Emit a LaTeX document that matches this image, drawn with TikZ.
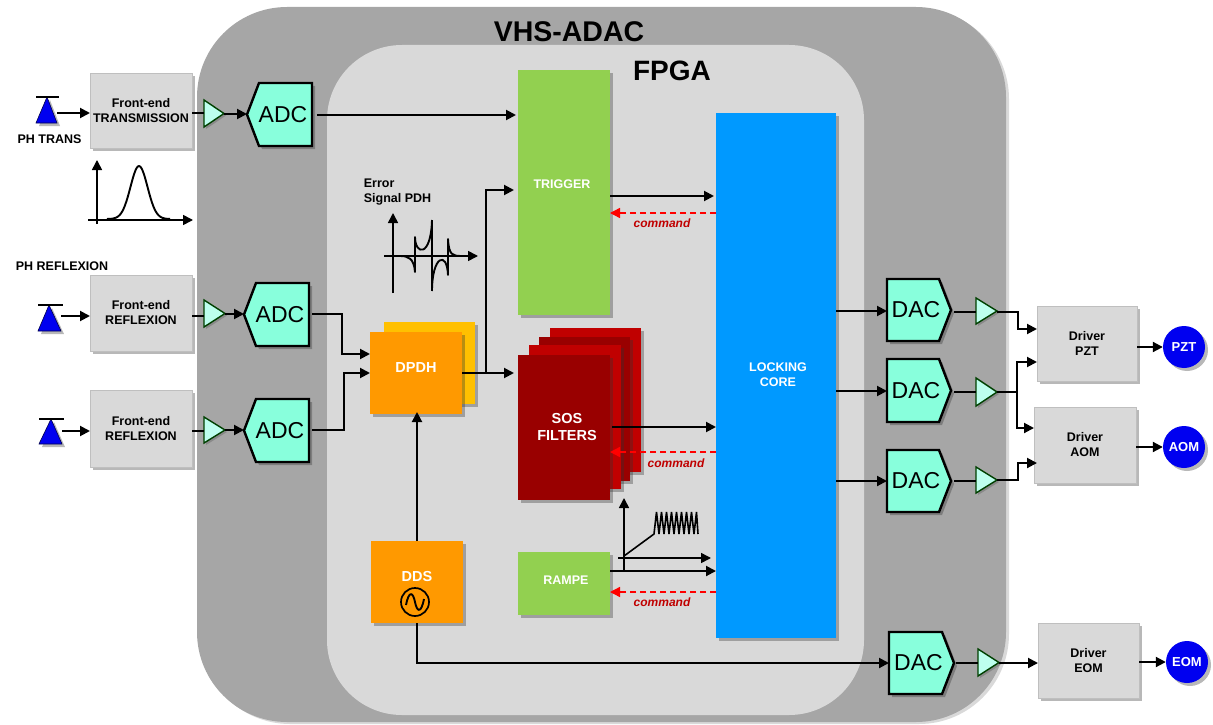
\documentclass[tikz,border=0pt]{standalone}
\usepackage{fontspec}
\setmainfont{Liberation Sans}
\usetikzlibrary{arrows.meta,shadows,calc}
\definecolor{outerg}{HTML}{A6A6A6}
\definecolor{innerg}{HTML}{D9D9D9}
\definecolor{conv}{HTML}{88FFDC}
\definecolor{ampc}{HTML}{BDFFEE}
\definecolor{grn}{HTML}{92D050}
\definecolor{blu}{HTML}{0099FF}
\definecolor{org}{HTML}{FF9900}
\definecolor{yel}{HTML}{FFC000}
\definecolor{red1}{HTML}{C00000}
\definecolor{red2}{HTML}{990000}
\definecolor{dblue}{HTML}{0000F0}
\newcommand\fs[2]{\fontsize{#1}{#2}\selectfont}
\tikzset{
  sh/.style={drop shadow={shadow xshift=3pt,shadow yshift=-3pt,opacity=.35,fill=black!80}},
  shs/.style={drop shadow={shadow xshift=2pt,shadow yshift=-2pt,opacity=.25,fill=black!80}},
  blk/.style={inner sep=0pt,outer sep=0pt,align=center,sh},
  fe/.style={blk,fill=innerg,draw=black!25,line width=.8pt,text=black,font=\bfseries\fs{12.5}{15}},
  wlab/.style={inner sep=0pt,text=white,align=center,font=\bfseries\fs{12.5}{15}},
  blab/.style={inner sep=0pt,text=black,align=left,font=\bfseries\fs{12.5}{15}},
  cmd/.style={inner sep=0pt,text=red1,font=\bfseries\itshape\fs{12}{14}},
  conlab/.style={inner sep=0pt,text=black,font=\fs{23}{25}},
  conshape/.style={fill=conv,draw=black,line width=2.4pt,line join=miter,sh},
  ampshape/.style={fill=ampc,draw=black!75!green,line width=1.4pt,line join=miter,shs},
  pdshape/.style={fill=dblue,draw=black!70!blue,line width=.6pt,sh},
  circ/.style={circle,fill=dblue,inner sep=0pt,minimum size=42pt,text=white,font=\bfseries\fs{13}{15},sh},
  anch/.style={inner sep=0pt,outer sep=0pt},
  wire/.style={draw=black,line width=2pt,-{Triangle[length=10pt,width=10pt]}},
  plainw/.style={draw=black,line width=2pt},
  cwire/.style={draw=red,line width=1.4pt,dash pattern=on 6pt off 4pt,-{Triangle[length=10pt,width=10pt]}},
  axis/.style={draw=black,line width=1.6pt,-{Triangle[length=10pt,width=10pt]}},
  curve/.style={draw=black,line width=1.9pt,line join=round}
}
% rectangle node from corners
\newcommand\blkn[7]{\node[#6,minimum width={(#3-#2)*1pt},minimum height={(#5-#4)*1pt}] (#1) at ({(#2+#3)/2},{(#4+#5)/2}) {#7};}
% bounding node, no paint
\newcommand\anchn[5]{\node[anch,minimum width={(#3-#2)*1pt},minimum height={(#5-#4)*1pt}] (#1) at ({(#2+#3)/2},{(#4+#5)/2}) {};}
% ADC: name x0 x1 y0 y1
\newcommand\adcn[5]{\draw[conshape] (#2,{(#4+#5)/2}) -- ({#2+12},#4) -- (#3,#4) -- (#3,#5) -- ({#2+12},#5) -- cycle;
  \anchn{#1}{#2}{#3}{#4}{#5}
  \node[conlab] (#1t) at ({(#2+#3)/2+3.5},{(#4+#5)/2}) {ADC};}
\newcommand\dacn[5]{\draw[conshape] (#2,#4) -- ({#3-12},#4) -- (#3,{(#4+#5)/2}) -- ({#3-12},#5) -- (#2,#5) -- cycle;
  \anchn{#1}{#2}{#3}{#4}{#5}
  \node[conlab] (#1t) at ({(#2+#3)/2-3},{(#4+#5)/2}) {DAC};}
\newcommand\ampn[5]{\draw[ampshape] (#2,#4) -- (#3,{(#4+#5)/2}) -- (#2,#5) -- cycle;
  \anchn{#1}{#2}{#3}{#4}{#5}}
% photodiode: name apexx x0 x1 ytop ybase
\newcommand\pdn[6]{\draw[pdshape] (#2,#5) -- (#4,#6) -- (#3,#6) -- cycle;
  \draw[black,line width=1.4pt] (#3,#5) -- ({#4+2},#5);
  \anchn{#1}{#3}{#4}{#5}{#6}}
\begin{document}
\begin{tikzpicture}[x=1pt,y=-1pt]
\useasboundingbox (0,0) rectangle (1213,725);
% Containers
\node[anch,rounded corners=90pt,fill=outerg,minimum width=809pt,minimum height=715pt,drop shadow={shadow xshift=3pt,shadow yshift=-2pt,opacity=.15,fill=black}] (vhs) at (601.5,364.5) {};
\node[anch,rounded corners=75pt,fill=innerg,minimum width=537pt,minimum height=670pt] (fpga) at (595.5,380) {};
\node[inner sep=0pt,font=\bfseries\fs{28.5}{32},text=black] (vhst) at (569,32) {VHS-ADAC};
\node[inner sep=0pt,font=\bfseries\fs{28}{32},text=black] (fpgat) at (672,71) {FPGA};

% Photodiodes and front ends
\pdn{pd1}{47}{36}{57}{97}{123}
\pdn{pd2}{49}{38}{61}{305}{331}
\pdn{pd3}{51}{39}{62}{419}{444}
\node[blab] (ph1) at (49.5,139) {PH TRANS};
\node[blab] (ph2) at (62,266) {PH REFLEXION};
\blkn{fe1}{90}{192}{73}{148}{fe}{Front-end\\TRANSMISSION}
\blkn{fe2}{90}{192}{275}{351}{fe}{Front-end\\REFLEXION}
\blkn{fe3}{90}{192}{390}{467}{fe}{Front-end\\REFLEXION}
\ampn{t1}{204}{224}{100}{127}
\ampn{t2}{204}{225}{300}{327}
\ampn{t3}{204}{225}{417}{443}
\adcn{adc1}{247}{312}{83}{146}
\adcn{adc2}{244}{309}{283}{346}
\adcn{adc3}{244}{309}{399}{462}

% FPGA blocks
\blkn{trig}{518}{610}{70}{315}{blk,fill=grn}{}
\node[wlab] (trigt) at (562,184) {TRIGGER};
\blkn{core}{716}{836}{113}{638}{blk,fill=blu}{}
\node[wlab] (coret) at (778,375) {LOCKING\\CORE};
\blkn{dpdhb}{384}{475}{322}{404}{blk,fill=yel}{}
\blkn{dpdh}{370}{462}{332}{414}{blk,fill=org}{}
\node[wlab,font=\bfseries\fs{14.5}{17}] (dpdht) at (416,368) {DPDH};
\blkn{sos4}{550}{641}{328}{472}{blk,fill=red1}{}
\blkn{sos3}{539}{630}{337}{481}{blk,fill=red2}{}
\blkn{sos2}{529}{621}{345}{489}{blk,fill=red1}{}
\blkn{sos1}{518}{610}{355}{500}{blk,fill=red2}{}
\node[wlab,font=\bfseries\fs{14.5}{17}] (sost) at (567,427.5) {SOS\\FILTERS};
\blkn{dds}{371}{463}{541}{623}{blk,fill=org}{}
\node[wlab,font=\bfseries\fs{14.5}{17}] (ddst) at (417,577) {DDS};
\node[circle,draw=black,line width=1.7pt,inner sep=0pt,minimum size=28pt] (osc) at (415,602) {};
\draw[curve] (406,605) .. controls (409,590) and (413,592) .. (415,602) .. controls (417,612) and (421,614) .. (424,599);
\blkn{ramp}{518}{610}{552}{615}{blk,fill=grn}{}
\node[wlab] (rampt) at (566,580) {RAMPE};

% DACs, amps, drivers
\dacn{dac1}{887}{951}{279}{341}
\dacn{dac2}{887}{951}{359}{422}
\dacn{dac3}{887}{951}{450}{512}
\dacn{dac4}{889}{954}{632}{694}
\ampn{a1}{976}{997}{298}{324}
\ampn{a2}{976}{997}{378}{406}
\ampn{a3}{976}{997}{467}{493}
\ampn{a4}{978}{999}{649}{676}
\blkn{dpzt}{1037}{1137}{306}{381}{fe}{Driver\\PZT}
\blkn{daom}{1034}{1136}{407}{483}{fe}{Driver\\AOM}
\blkn{deom}{1038}{1139}{623}{698}{fe}{Driver\\EOM}
\node[circ] (pzt) at (1184,347) {PZT};
\node[circ] (aom) at (1184,447) {AOM};
\node[circ] (eom) at (1187,662) {EOM};

% Connectors, input side
\draw[wire] (pd1.east |- 0,113) -- (fe1.west |- 0,113);
\draw[wire] (pd2.east |- 0,316) -- (fe2.west |- 0,316);
\draw[wire] (pd3.east |- 0,431) -- (fe3.west |- 0,431);
\draw[plainw] (fe1.east |- 0,113) -- (t1.west |- 0,113);
\draw[plainw] (fe2.east |- 0,316) -- (t2.west |- 0,316);
\draw[plainw] (fe3.east |- 0,431) -- (t3.west |- 0,431);
\draw[wire] (t1.east |- 0,114) -- (adc1.west |- 0,114);
\draw[wire] (t2.east |- 0,314) -- (adc2.west |- 0,314);
\draw[wire] (t3.east |- 0,430) -- (adc3.west |- 0,430);
\draw[wire] ([xshift=5pt]adc1.east |- 0,115) -- ([xshift=-2pt]trig.west |- 0,115);
\draw[wire] ([xshift=3pt]adc2.east |- 0,314) -- (342,314) -- (342,354) -- (dpdh.west |- 0,354);
\draw[wire] ([xshift=3pt]adc3.east |- 0,430) -- (344,430) -- (344,373) -- (dpdh.west |- 0,373);
% DPDH
\draw[wire] (dpdh.east |- 0,373) -- ([xshift=-4pt]sos1.west |- 0,373);
\coordinate (branch) at (486,373);
\draw[wire] (branch) -- (486,190) -- ([xshift=-4pt]trig.west |- 0,190);
\draw[wire] (dds.north -| 417,0) -- ([yshift=2pt]dpdh.south -| 417,0);
\draw[wire] (dds.south -| 417,0) -- (417,663) -- (dac4.west |- 0,663);
% to core
\draw[wire] (trig.east |- 0,196) -- ([xshift=-2pt]core.west |- 0,196);
\draw[wire] ([xshift=2pt]sos1.east |- 0,427) -- (core.west |- 0,427);
\draw[wire] (ramp.east |- 0,571) -- (core.west |- 0,571);
\draw[cwire] (core.west |- 0,213) -- (trig.east |- 0,213);
\draw[cwire] (core.west |- 0,452) -- (sos1.east |- 0,452);
\draw[cwire] (core.west |- 0,592) -- (ramp.east |- 0,592);
\node[cmd] (c1) at (662,223) {command};
\node[cmd] (c2) at (676,463) {command};
\node[cmd] (c3) at (662,602) {command};
% core to DAC
\draw[wire] (core.east |- 0,311) -- (dac1.west |- 0,311);
\draw[wire] (core.east |- 0,391) -- (dac2.west |- 0,391);
\draw[wire] (core.east |- 0,481) -- (dac3.west |- 0,481);
\draw[plainw] ([xshift=3pt]dac1.east |- 0,312) -- (a1.west |- 0,312);
\draw[plainw] ([xshift=3pt]dac2.east |- 0,392) -- (a2.west |- 0,392);
\draw[plainw] ([xshift=3pt]dac3.east |- 0,481) -- (a3.west |- 0,481);
\draw[plainw] ([xshift=2pt]dac4.east |- 0,663) -- (a4.west |- 0,663);
% amps to drivers
\draw[wire] (a1.east |- 0,312) -- (1018,312) -- (1018,329) -- (dpzt.west |- 0,329);
\draw[wire] (a2.east |- 0,392) -- (1017,392) -- (1017,362) -- (dpzt.west |- 0,362);
\coordinate (b2) at (1017,392);
\draw[wire] (b2) -- (1017,428) -- (daom.west |- 0,428);
\draw[wire] (a3.east |- 0,480) -- (1018,480) -- (1018,463) -- ([xshift=3pt]daom.west |- 0,463);
\draw[wire] (a4.east |- 0,663) -- (deom.west |- 0,663);
\draw[wire] (dpzt.east |- 0,347) -- (pzt.west);
\draw[wire] (daom.east |- 0,447) -- (aom.west);
\draw[wire] (deom.east |- 0,662) -- (eom.west);

% Sketches
\draw[axis] (97,224) -- (97,160);
\draw[axis] (88,220) -- (193,220);
\draw[curve] plot[smooth,domain=107:170,samples=50] (\x,{219-53*exp(-((\x-139)*(\x-139))/(2*8.5*8.5))});
\node[blab] (errt) at (397.5,192.5) {\hbox to 66pt{Error\hfil}\\Signal PDH};
\draw[axis] (393,293) -- (393,213);
\draw[axis] (384,256) -- (478,256);
\draw[curve] (432,220) -- (432,291);
\draw[curve] (400,256) .. controls (408,256) and (414,258) .. (415,272) -- (415,237) .. controls (415,255) and (431,258) .. (432,220);
\draw[curve] (432,291) .. controls (432,256) and (447,250) .. (448,275) -- (448,239) .. controls (449,255) and (452,256) .. (462,256);
\draw[axis] (624,571) -- (624,498);
\draw[axis] (618,558) -- (711,558);
\draw[draw=black,line width=1.6pt,line join=bevel] (624,556) -- (654,534) -- (656.5,512) -- (659,534) -- (661.5,512) -- (664,534) -- (666.5,512) -- (669,534) -- (671.5,512) -- (674,534) -- (676.5,512) -- (679,534) -- (681.5,512) -- (684,534) -- (686.5,512) -- (689,534) -- (691.5,512) -- (694,534) -- (696.5,512) -- (698,534);
\end{tikzpicture}
\end{document}
